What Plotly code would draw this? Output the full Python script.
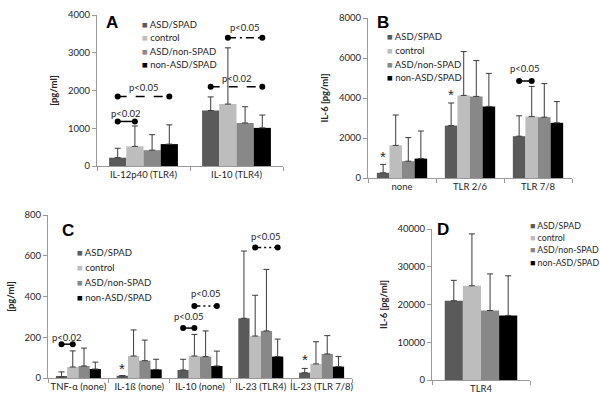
import plotly.graph_objects as go

# ---------------- data ----------------
series = ["ASD/SPAD", "control", "ASD/non-SPAD", "non-ASD/SPAD"]
colors = ["#5a5a5a", "#bdbdbd", "#888888", "#000000"]

# Panel A  [pg/ml]
a_cats = ["IL-12p40 (TLR4)", "IL-10 (TLR4)"]
a_mean = [[220, 1470], [520, 1640], [420, 1140], [580, 1010]]
a_sd = [[250, 360], [540, 1490], [410, 430], [510, 340]]

# Panel B  IL-6 [pg/ml]
b_cats = ["none", "TLR 2/6", "TLR 7/8"]
b_mean = [[260, 2620, 2090], [1630, 4130, 3070], [840, 4080, 3040], [970, 3580, 2760]]
b_sd = [[420, 1130, 1020], [1520, 2190, 1510], [1180, 1790, 1680], [1380, 1650, 1060]]

# Panel C  [pg/ml]
c_cats = ["TNF-α (none)", "IL-1ß (none)", "IL-10 (none)", "IL-23 (TLR4)", "IL-23 (TLR 7/8)"]
c_mean = [[5, 11, 39, 293, 26], [54, 108, 108, 206, 69], [59, 85, 105, 231, 118], [44, 42, 59, 105, 56]]
c_sd = [[25, 0, 53, 330, 21], [79, 128, 106, 200, 109], [88, 101, 126, 302, 90], [34, 50, 73, 86, 49]]

# Panel D  IL-6 [pg/ml]
d_cats = ["TLR4"]
d_mean = [[21000], [24950], [18400], [17100]]
d_sd = [[5400], [13750], [9700], [10500]]

# significance marks: (category index, from series, to series, line y, dash, label, label y)
a_sig = [(0, 0, 1, 1180, "solid", "p<0.02", 1400),
         (0, 0, 3, 1840, "dash", "p<0.05", 2070),
         (1, 0, 3, 2100, "dash", "p<0.02", 2330),
         (1, 1, 3, 3400, "8px,4px,2px,4px", "p<0.05", 3670)]
b_sig = [(2, 0, 1, 4850, "solid", "p<0.05", 5500)]
c_sig = [(0, 0, 1, 166, "solid", "p<0.02", 200),
         (2, 0, 1, 245, "solid", "p<0.05", 301),
         (2, 1, 3, 353, "6px,3px,2px,3px,2px,3px", "p<0.05", 415),
         (3, 1, 3, 640, "6px,3px,2px,3px,2px,3px", "p<0.05", 692)]
d_sig = [(0, 1, 3, 40300, "2px,3px,2px,3px,10px,3px,2px,3px,2px,3px", "p<0.05", 42500)]

# asterisks: (category index, series index, y)
b_star = [(0, 0, 1100), (1, 0, 4200)]
c_star = [(1, 0, 45), (4, 0, 92)]

BW = 0.185
FONT = "Lato, 'Liberation Sans', Arial, sans-serif"
TXT = "#262626"
AXC = "#9a9a9a"


def pos(i, j):
    return i + (j - 1.5) * BW


fig = go.Figure()

panels = [
    dict(k="", cats=a_cats, mean=a_mean, sd=a_sd, sig=a_sig, star=[], yr=[0, 4000], dt=1000,
         xd=[97 / 600, 283 / 600], yd=[1 - 166 / 406, 1 - 15 / 406], title="[pg/ml]",
         letter="A", lx=112, ly=22, legx=140, legy=24, legdy=13.5, legfs=9.5),
    dict(k="2", cats=b_cats, mean=b_mean, sd=b_sd, sig=b_sig, star=b_star, yr=[0, 8000], dt=2000,
         xd=[368 / 600, 572 / 600], yd=[1 - 178 / 406, 1 - 18 / 406], title="IL-6 [pg/ml]",
         letter="B", lx=383, ly=23, legx=385, legy=37, legdy=13.5, legfs=9.5),
    dict(k="3", cats=c_cats, mean=c_mean, sd=c_sd, sig=c_sig, star=c_star, yr=[0, 800], dt=200,
         xd=[48 / 600, 352 / 600], yd=[1 - 378 / 406, 1 - 215 / 406], title="[pg/ml]",
         letter="C", lx=68, ly=230, legx=75, legy=252, legdy=15.3, legfs=9.5),
    dict(k="4", cats=d_cats, mean=d_mean, sd=d_sd, sig=d_sig, star=[], yr=[0, 40000], dt=10000,
         xd=[432 / 600, 530 / 600], yd=[1 - 380 / 406, 1 - 229 / 406], title="IL-6 [pg/ml]",
         letter="D", lx=443, ly=229, legx=528, legy=225, legdy=12.4, legfs=8.8),
]

annotations = []
for p in panels:
    xa, ya = "x" + p["k"], "y" + p["k"]
    n = len(p["cats"])
    for j, name in enumerate(series):
        fig.add_trace(go.Bar(
            x=[pos(i, j) for i in range(n)], y=p["mean"][j], width=BW,
            marker=dict(color=colors[j], line=dict(width=0)),
            error_y=dict(type="data", array=p["sd"][j], arrayminus=[0] * n, symmetric=False,
                         color="#3a3a3a", thickness=1, width=3),
            name=name, showlegend=False, xaxis=xa, yaxis=ya))
    for (i, j0, j1, yl, dash, lab, ty) in p["sig"]:
        fig.add_trace(go.Scatter(
            x=[pos(i, j0), pos(i, j1)], y=[yl, yl], mode="lines+markers",
            line=dict(color="black", width=1.5, dash=dash),
            marker=dict(color="black", size=6), cliponaxis=False,
            showlegend=False, hoverinfo="skip", xaxis=xa, yaxis=ya))
        annotations.append(dict(x=(pos(i, j0) + pos(i, j1)) / 2, y=ty, xref=xa, yref=ya,
                                text=lab, showarrow=False, font=dict(size=9.5, color=TXT, family=FONT)))
    for (i, j, ys) in p["star"]:
        annotations.append(dict(x=pos(i, j), y=ys, xref=xa, yref=ya, text="*", showarrow=False,
                                yanchor="middle",
                                font=dict(size=15, color=TXT, family="Liberation Sans, Arial")))
    # panel letter
    annotations.append(dict(x=p["lx"] / 600, y=1 - p["ly"] / 406, xref="paper", yref="paper",
                            text="<b>%s</b>" % p["letter"], showarrow=False, xanchor="center",
                            yanchor="middle", font=dict(size=17, color="black", family="Liberation Sans, Arial")))
    # legend
    for j, name in enumerate(series):
        annotations.append(dict(
            x=p["legx"] / 600, y=1 - (p["legy"] + j * p["legdy"]) / 406, xref="paper", yref="paper",
            text='<span style="color:%s">■</span> %s' % (colors[j], name), showarrow=False,
            xanchor="left", yanchor="middle", font=dict(size=p["legfs"], color=TXT, family=FONT)))

    xaxis = dict(domain=p["xd"], anchor=ya, range=[-0.5, n - 0.5], tickvals=list(range(n)),
                 ticktext=p["cats"], ticks="", showline=True, linecolor=AXC, linewidth=1,
                 showgrid=False, zeroline=False, fixedrange=True, automargin=False,
                 tickfont=dict(size=9.5, color=TXT, family=FONT),
                 minor=dict(tickvals=[i - 0.5 for i in range(n + 1)], ticks="outside",
                            ticklen=4, tickcolor=AXC, showgrid=False))
    yaxis = dict(domain=p["yd"], anchor=xa, range=p["yr"], dtick=p["dt"], tick0=0,
                 tickformat="d", automargin=False,
                 ticks="outside", ticklen=4, tickcolor=AXC, showline=True, linecolor=AXC,
                 linewidth=1, showgrid=False, zeroline=False,
                 tickfont=dict(size=9.5, color=TXT, family=FONT),
                 title=dict(text="<b>%s</b>" % p["title"], standoff=8,
                            font=dict(size=9.5, color=TXT, family=FONT)))
    fig.layout["xaxis" + p["k"]] = xaxis
    fig.layout["yaxis" + p["k"]] = yaxis

fig.update_layout(
    width=600, height=406, margin=dict(l=0, r=0, t=0, b=0, autoexpand=False),
    paper_bgcolor="white", plot_bgcolor="white", barmode="overlay",
    showlegend=False, annotations=annotations, font=dict(family=FONT, color=TXT))

fig.write_html("out.html", config={"displayModeBar": False},
               post_script="document.body.style.margin='0';")
